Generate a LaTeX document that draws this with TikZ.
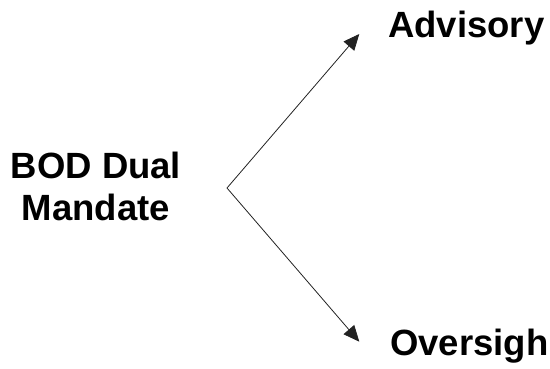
\documentclass[tikz,border=0pt]{standalone}
\usepackage{fontspec}
\setmainfont{Liberation Sans}
\usetikzlibrary{arrows.meta}
\definecolor{ink}{HTML}{222222}
\tikzset{
  lbl/.style={inner sep=0pt, font=\bfseries\fontsize{36.5}{41.7}\selectfont, text=black},
  arr/.style={draw=ink, line width=0.8pt, -{Triangle[length=16pt,width=14pt]}}
}
\begin{document}
\begin{tikzpicture}[x=1pt,y=-1pt]
\useasboundingbox (0,0) rectangle (550,368);
\node[lbl, align=center, anchor=base] (bod) at (96,220) {BOD Dual\\Mandate};
\node[lbl, anchor=base west] (adv) at (388,37) {Advisory};
\node[lbl, anchor=base west] (ovs) at (390,355) {Oversigh};
\coordinate (v) at (227,188);
\coordinate (ta) at (359.3,34);
\coordinate (to) at (359.3,341.7);
\draw[arr] (v) -- (ta);
\draw[arr] (v) -- (to);
\end{tikzpicture}
\end{document}
